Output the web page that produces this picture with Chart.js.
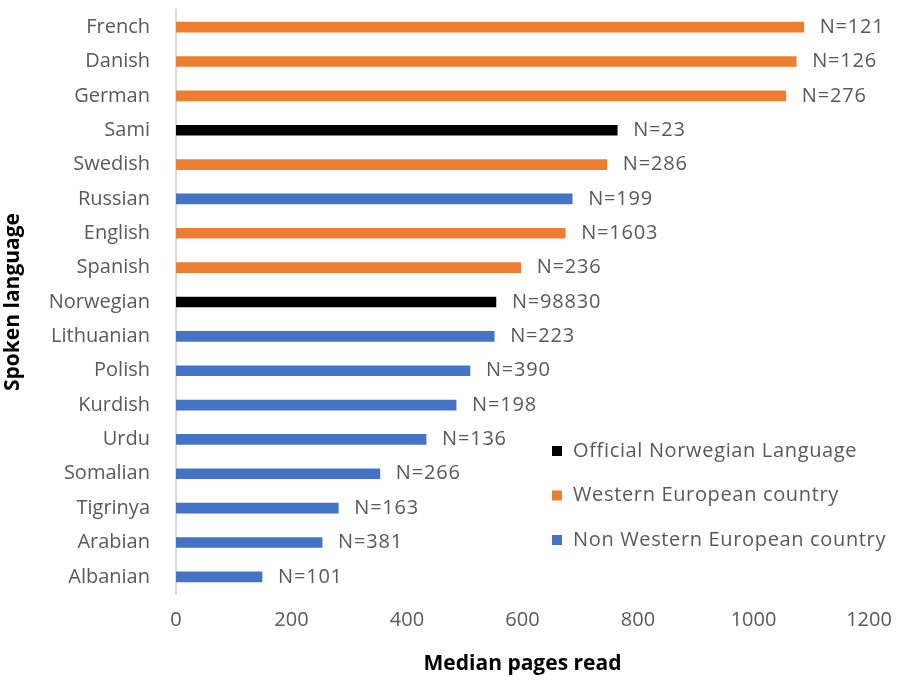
<!DOCTYPE html>
<html>
<head>
<meta charset="utf-8">
<script src="https://cdn.jsdelivr.net/npm/chart.js@4"></script>
<style>
  html, body { margin: 0; padding: 0; background: #fff; }
  #wrap { width: 908px; height: 681px; }
</style>
</head>
<body>
<div id="wrap"><canvas id="chart" width="908" height="681"></canvas></div>
<script>
// Chart data
const languages = ['French', 'Danish', 'German', 'Sami', 'Swedish', 'Russian', 'English', 'Spanish', 'Norwegian',
    'Lithuanian', 'Polish', 'Kurdish', 'Urdu', 'Somalian', 'Tigrinya', 'Arabian', 'Albanian'];
const medianPages = [1087, 1074, 1056, 764, 746, 686, 674, 597, 554, 551, 509, 485, 433, 353, 281, 253, 149];
const sampleSizes = [121, 126, 276, 23, 286, 199, 1603, 236, 98830, 223, 390, 198, 136, 266, 163, 381, 101];
const groups = ['W', 'W', 'W', 'O', 'W', 'N', 'W', 'W', 'O', 'N', 'N', 'N', 'N', 'N', 'N', 'N', 'N'];
const groupNames = ['Official Norwegian Language', 'Western European country', 'Non Western European country'];
const groupKeys = ['O', 'W', 'N'];
const xTicks = [0, 200, 400, 600, 800, 1000, 1200];

// Colors
const groupColors = {
    O: '#000000',
    W: '#ED7D31',
    N: '#4472C4'
};

const textGray = '#595959';
const fontFamily = '"Open Sans", sans-serif';

// N= labels next to each bar
const barLabels = {
    id: 'barLabels',
    afterDatasetsDraw(chart) {
        const ctx = chart.ctx;
        const meta = chart.getDatasetMeta(0);
        ctx.save();
        ctx.font = '20px ' + fontFamily;
        ctx.letterSpacing = '0.8px';
        ctx.fillStyle = textGray;
        ctx.textAlign = 'left';
        ctx.textBaseline = 'middle';
        meta.data.forEach((bar, i) => {
            ctx.fillText('N=' + sampleSizes[i], bar.x + 16, bar.y);
        });
        ctx.restore();
    }
};

// Legend sits inside the plot, lower right
const insideLegend = {
    id: 'insideLegend',
    afterDraw(chart) {
        const ctx = chart.ctx;
        const x = 552;
        const y0 = 451;
        const step = 44.5;
        ctx.save();
        ctx.font = '20px ' + fontFamily;
        ctx.letterSpacing = '0.65px';
        ctx.textAlign = 'left';
        ctx.textBaseline = 'middle';
        groupKeys.forEach((k, i) => {
            const y = y0 + i * step;
            ctx.fillStyle = groupColors[k];
            ctx.fillRect(x, y - 5, 10, 10);
            ctx.fillStyle = textGray;
            ctx.fillText(groupNames[i], x + 21, y);
        });
        ctx.restore();
    }
};

const config = {
    type: 'bar',
    data: {
        labels: languages,
        datasets: [{
            data: medianPages,
            backgroundColor: groups.map(g => groupColors[g]),
            barThickness: 10
        }]
    },
    options: {
        indexAxis: 'y',
        responsive: false,
        animation: false,
        layout: {
            padding: { left: 0, right: 39, top: 10, bottom: 0 }
        },
        plugins: {
            legend: { display: false },
            tooltip: { enabled: false }
        },
        scales: {
            x: {
                min: 0,
                max: 1200,
                afterBuildTicks: (scale) => { scale.ticks = xTicks.map(v => ({ value: v })); },
                afterFit: (scale) => { scale.height = 87; },
                grid: { display: false },
                border: { display: false },
                ticks: {
                    color: textGray,
                    font: { family: fontFamily, size: 20 },
                    padding: 6,
                    callback: (v) => String(v)
                },
                title: {
                    display: true,
                    text: 'Median pages read',
                    color: '#000',
                    font: { family: fontFamily, size: 21, weight: 'bold' },
                    padding: { top: 4, bottom: 4 }
                }
            },
            y: {
                afterFit: (scale) => {
                    scale.width = 176;
                    scale.paddingTop = 0;
                    scale.paddingBottom = 0;
                },
                grid: { display: false },
                border: { display: true, color: '#d9d9d9', width: 2 },
                ticks: {
                    color: textGray,
                    font: { family: fontFamily, size: 20 },
                    padding: 18
                },
                title: {
                    display: true,
                    text: 'Spoken language',
                    color: '#000',
                    font: { family: fontFamily, size: 21, weight: 'bold' },
                    padding: { top: 0, bottom: 0 }
                }
            }
        }
    },
    plugins: [barLabels, insideLegend]
};

const chart = new Chart(document.getElementById('chart'), config);
</script>
</body>
</html>
